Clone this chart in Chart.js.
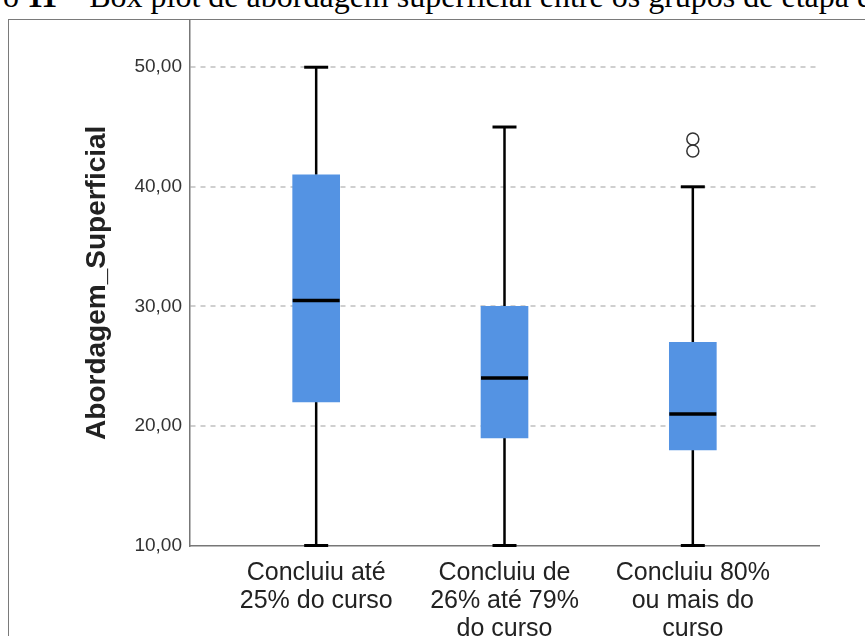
<!DOCTYPE html>
<html lang="pt">
<head>
<meta charset="utf-8">
<script src="https://cdn.jsdelivr.net/npm/chart.js@4/dist/chart.umd.min.js"></script>
<style>
  html, body { margin: 0; padding: 0; width: 865px; height: 636px; overflow: hidden; background: #fff; }
  #caption {
    position: absolute; left: 3px; top: -20px; line-height: 32px;
    font-family: "Liberation Serif", "Times New Roman", serif; font-size: 32px;
    white-space: nowrap; color: #000;
  }
  #frame {
    position: absolute; left: 8px; top: 19px; width: 1000px; height: 1000px;
    border-left: 1px solid #7a7a7a; border-top: 1px solid #7a7a7a;
  }
  #wrap { position: absolute; left: 0; top: 0; width: 865px; height: 636px; }
</style>
</head>
<body>
<div id="caption">o <b>11</b> – Box plot de abordagem superficial entre os grupos de etapa do curso</div>
<div id="frame"></div>
<div id="wrap"><canvas id="c" width="865" height="636"></canvas></div>
<script>
// Groups (stage of the course completed)
const categories = [
  ['Concluiu até', '25% do curso'],
  ['Concluiu de', '26% até 79%', 'do curso'],
  ['Concluiu 80%', 'ou mais do', 'curso']
];

// Five-number summaries per group
const whiskerLow  = [10, 10, 10];
const q1          = [22, 19, 18];
const median      = [30.5, 24, 21];
const q3          = [41, 30, 27];
const whiskerHigh = [50, 45, 40];

// Outliers of the third group
const outlierGroup = [3, 3];
const outlierValue = [43, 44];

// Y axis ticks
const yTickValues = [10, 20, 30, 40, 50];
const yMin = 10;
const yMax = 53.95;

const boxColor = '#5493e3';

// Whiskers, caps and medians drawn through the chart scales
const whiskerPlugin = {
  id: 'whiskers',
  beforeDatasetsDraw(chart) {
    const { ctx, scales: { x, y } } = chart;
    ctx.save();
    ctx.strokeStyle = '#000';
    categories.forEach((c, i) => {
      const px = x.getPixelForValue(i + 1);
      ctx.lineWidth = 2.5;
      ctx.beginPath();
      ctx.moveTo(px, y.getPixelForValue(whiskerLow[i]));
      ctx.lineTo(px, y.getPixelForValue(q1[i]));
      ctx.moveTo(px, y.getPixelForValue(q3[i]));
      ctx.lineTo(px, y.getPixelForValue(whiskerHigh[i]));
      ctx.stroke();
      ctx.lineWidth = 3;
      [whiskerLow[i], whiskerHigh[i]].forEach(v => {
        const py = y.getPixelForValue(v);
        ctx.beginPath();
        ctx.moveTo(px - 12, py);
        ctx.lineTo(px + 12, py);
        ctx.stroke();
      });
    });
    ctx.restore();
  },
  afterDatasetsDraw(chart) {
    const { ctx, scales: { x, y } } = chart;
    const bars = chart.getDatasetMeta(0).data;
    ctx.save();
    ctx.strokeStyle = '#000';
    ctx.lineWidth = 3.5;
    categories.forEach((c, i) => {
      const px = x.getPixelForValue(i + 1);
      const half = bars[i].width / 2;
      const py = y.getPixelForValue(median[i]);
      ctx.beginPath();
      ctx.moveTo(px - half, py);
      ctx.lineTo(px + half, py);
      ctx.stroke();
    });
    ctx.restore();
  }
};

new Chart(document.getElementById('c'), {
  type: 'bar',
  data: {
    datasets: [
      {
        type: 'bar',
        data: categories.map((c, i) => ({ x: i + 1, y: [q1[i], q3[i]] })),
        backgroundColor: boxColor,
        borderWidth: 0,
        barThickness: 47,
        order: 2
      },
      {
        type: 'scatter',
        data: outlierValue.map((v, i) => ({ x: outlierGroup[i], y: v })),
        pointStyle: 'circle',
        pointRadius: 6,
        pointBorderWidth: 1.5,
        borderColor: '#333',
        backgroundColor: 'rgba(0,0,0,0)',
        showLine: false,
        order: 1
      }
    ]
  },
  options: {
    responsive: false,
    animation: false,
    layout: { padding: { top: 20, right: 46, bottom: 0, left: 0 } },
    plugins: { legend: { display: false }, tooltip: { enabled: false } },
    scales: {
      x: {
        type: 'linear',
        offset: false,
        min: 0.33,
        max: 3.67,
        afterBuildTicks: s => { s.ticks = categories.map((c, i) => ({ value: i + 1 })); },
        afterFit: s => { s.height = 90.5; },
        ticks: {
          callback: v => categories[v - 1],
          font: { family: 'Liberation Sans', size: 25, lineHeight: 1.12 },
          color: '#222',
          padding: 14,
          maxRotation: 0,
          autoSkip: false
        },
        grid: { offset: false, drawOnChartArea: false, drawTicks: false },
        border: { display: true, color: '#777', width: 1.5 }
      },
      y: {
        min: yMin,
        max: yMax,
        afterBuildTicks: s => { s.ticks = yTickValues.map(v => ({ value: v })); },
        afterFit: s => { s.width = 190; },
        ticks: {
          callback: v => v.toFixed(2).replace('.', ','),
          font: { family: 'Liberation Sans', size: 19 },
          color: '#333',
          padding: 8
        },
        grid: {
          color: c => (c.tick && c.tick.value === yMin) ? 'rgba(0,0,0,0)' : '#cfcfcf',
          lineWidth: 2,
          drawTicks: false
        },
        border: { display: true, color: '#777', width: 1.5, dash: [5, 5] },
        title: {
          display: true,
          text: 'Abordagem_Superficial',
          font: { family: 'Liberation Sans', size: 28, weight: 'bold' },
          color: '#222',
          padding: { top: 80, bottom: 0 }
        }
      }
    }
  },
  plugins: [whiskerPlugin]
});
</script>
</body>
</html>
